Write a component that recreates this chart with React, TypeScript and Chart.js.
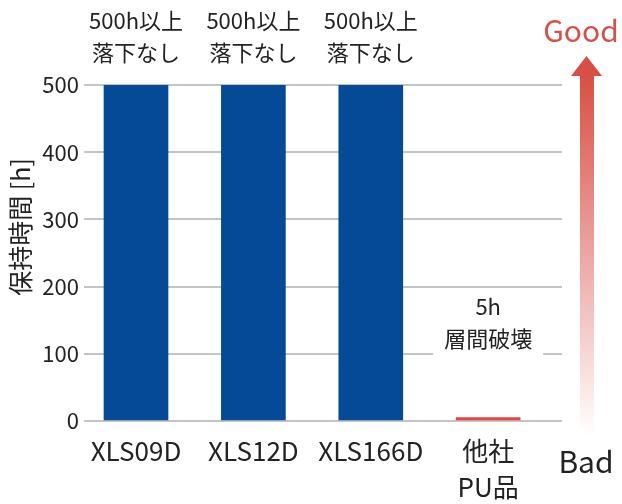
import React, { useEffect, useRef } from 'react';
import { Chart, registerables } from 'chart.js';

Chart.register(...registerables);

// Chart data
const categories: (string | string[])[] = ['XLS09D', 'XLS12D', 'XLS166D', ['他社', 'PU品']];
const holdHours = [500, 500, 500, 5];
const barColors = ['#054a96', '#054a96', '#054a96', '#e0463c'];
const barNotes: string[][] = [
  ['500h以上', '落下なし'],
  ['500h以上', '落下なし'],
  ['500h以上', '落下なし'],
  ['5h', '層間破壊'],
];
const yTicks = [0, 100, 200, 300, 400, 500];
const yTitle = '保持時間 [h]';

const FONT = '"Noto Sans CJK JP", "Noto Sans", sans-serif';
const TEXT = '#222222';
const RED = '#d94f45';

// Notes above bars, y title, Good/Bad arrow
const decorPlugin = {
  id: 'decor',
  afterDatasetsDraw(chart: any) {
    const { ctx, scales } = chart;
    const meta = chart.getDatasetMeta(0);
    ctx.save();
    ctx.font = `22px ${FONT}`;
    ctx.textAlign = 'center';
    ctx.textBaseline = 'middle';
    meta.data.forEach((bar: any, i: number) => {
      const lines = barNotes[i];
      const low = holdHours[i] < 100;
      const lastY = low ? scales.y.getPixelForValue(100) - 15 : bar.y - 32;
      if (low) {
        ctx.fillStyle = '#ffffff';
        ctx.fillRect(bar.x - 55, lastY - 50, 110, 70);
      }
      ctx.fillStyle = TEXT;
      lines.forEach((t, j) => {
        ctx.fillText(t, bar.x, lastY - (lines.length - 1 - j) * 32);
      });
    });
    ctx.restore();
  },
  afterDraw(chart: any) {
    const { ctx } = chart;
    ctx.save();
    // y title
    ctx.translate(20, 227);
    ctx.rotate(-Math.PI / 2);
    ctx.font = `25px ${FONT}`;
    ctx.fillStyle = TEXT;
    ctx.textAlign = 'center';
    ctx.textBaseline = 'middle';
    ctx.fillText(yTitle, 0, 0);
    ctx.restore();

    ctx.save();
    // arrow
    const grad = ctx.createLinearGradient(0, 76, 0, 436);
    grad.addColorStop(0, RED);
    grad.addColorStop(1, 'rgba(217,79,69,0)');
    ctx.fillStyle = grad;
    ctx.fillRect(580, 75, 14, 361);
    ctx.fillStyle = RED;
    ctx.beginPath();
    ctx.moveTo(571, 76);
    ctx.lineTo(602, 76);
    ctx.lineTo(586.5, 56);
    ctx.closePath();
    ctx.fill();

    ctx.font = `30px ${FONT}`;
    ctx.textAlign = 'center';
    ctx.textBaseline = 'middle';
    ctx.fillStyle = RED;
    ctx.fillText('Good', 581, 31);
    ctx.fillStyle = TEXT;
    ctx.fillText('Bad', 586, 462);
    ctx.restore();
  },
};

export default function App() {
  const canvasRef = useRef<HTMLCanvasElement>(null);
  const chartRef = useRef<Chart | null>(null);

  useEffect(() => {
    const ctx = canvasRef.current?.getContext('2d');
    if (!ctx) return;
    if (chartRef.current) chartRef.current.destroy();

    chartRef.current = new Chart(ctx, {
      type: 'bar',
      data: {
        datasets: [
          {
            data: holdHours.map((v, i) => ({ x: i, y: v })),
            backgroundColor: barColors,
            barThickness: 64,
          },
        ],
      },
      options: {
        animation: false,
        responsive: false,
        layout: { padding: { top: 85, right: 60, left: 0, bottom: 0 } },
        plugins: { legend: { display: false }, tooltip: { enabled: false } },
        scales: {
          x: {
            type: 'linear',
            offset: false,
            min: -0.443,
            max: 3.629,
            grid: { display: false, offset: false, drawTicks: false },
            border: { display: false },
            afterBuildTicks: (s: any) => {
              s.ticks = categories.map((_, i) => ({ value: i }));
            },
            afterFit: (s: any) => {
              s.height = 83;
            },
            ticks: {
              padding: 12,
              color: TEXT,
              font: { family: FONT, size: 26, lineHeight: 1.4 },
              maxRotation: 0,
              autoSkip: false,
              callback: (v: any) => categories[Number(v)] ?? '',
            },
          },
          y: {
            min: 0,
            max: 500,
            afterBuildTicks: (s: any) => {
              s.ticks = yTicks.map((v) => ({ value: v }));
            },
            afterFit: (s: any) => {
              s.width = 84;
            },
            grid: { color: '#c4c4c4', lineWidth: 2, drawTicks: false },
            border: { display: false },
            ticks: {
              padding: 5,
              color: TEXT,
              font: { family: FONT, size: 22 },
            },
          },
        },
      },
      plugins: [decorPlugin],
    } as any);

    return () => {
      chartRef.current?.destroy();
      chartRef.current = null;
    };
  }, []);

  return (
    <div style={{ position: 'absolute', left: 0, top: 0, width: 622, height: 504, background: '#fff' }}>
      <canvas ref={canvasRef} width={622} height={504} />
    </div>
  );
}
